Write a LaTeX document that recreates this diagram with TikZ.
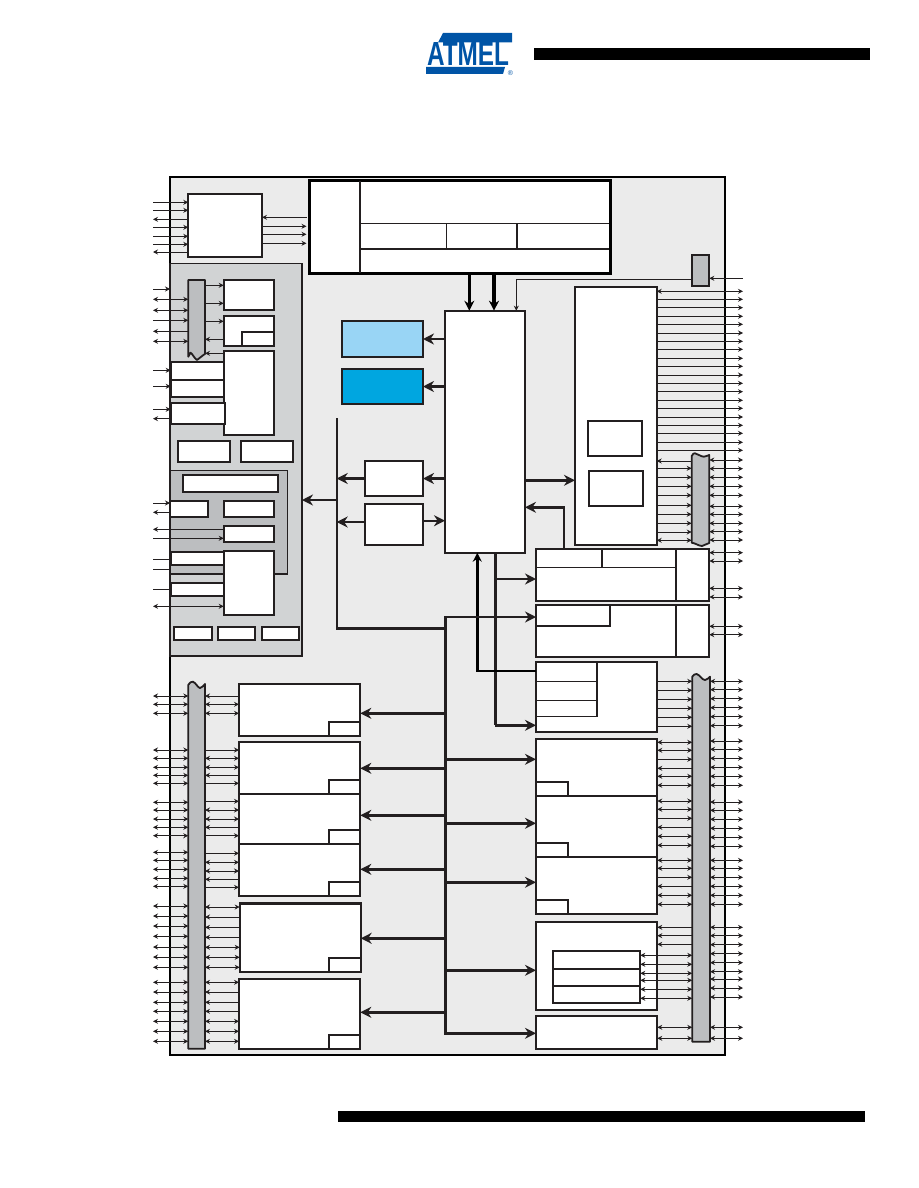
\documentclass[tikz,border=0pt]{standalone}
\usepackage{fontspec}
\setmainfont{Liberation Sans}
\usetikzlibrary{arrows.meta}
\definecolor{ink}{HTML}{231F20}
\definecolor{bgpanel}{HTML}{EBEBEB}
\definecolor{midgray}{HTML}{D1D3D4}
\definecolor{darkgray}{HTML}{BCBEC0}
\definecolor{lightblue}{HTML}{99D5F5}
\definecolor{strongblue}{HTML}{00A6E0}
\definecolor{logoblue}{HTML}{0054A6}
\tikzset{
  boxbase/.style={rectangle,inner sep=0pt,outer sep=0pt,draw=ink,fill=white,line width=1.8pt},
  thinbox/.style={line width=1.5pt},
  heavybox/.style={line width=2.4pt},
  blackbox/.style={draw=black,line width=2.9pt},
  ghost/.style={draw=none,fill=none},
  wire/.style={draw=ink,line width=0.9pt},
  wr/.style={wire,-{Stealth[length=5pt,width=5pt]}},
  wl/.style={wire,{Stealth[length=5pt,width=5pt]}-},
  wb/.style={wire,{Stealth[length=5pt,width=5pt]}-{Stealth[length=5pt,width=5pt]}},
  wn/.style={wire},
  busline/.style={draw=ink,line width=2.4pt},
  fat/.style={busline,-{Stealth[length=11pt,width=11pt]}},
  blackarrow/.style={draw=black,line width=2.6pt,-{Stealth[length=10pt,width=10pt]}},
  barshape/.style={draw=ink,fill=darkgray,line width=1.8pt,line join=round},
  divider/.style={draw=ink,line width=1.5pt},
}
% \bx[style]{name}{x1}{y1}{x2}{y2}
\newcommand{\bx}[6][]{\node[boxbase,#1,minimum width={(#5-#3)*1pt},minimum height={(#6-#4)*1pt}] (#2) at ({(#3+#5)/2},{(#4+#6)/2}) {};}
% \cn from to y style
\newcommand{\cn}[4]{\draw[#4] (#1 |- 0,#3) -- (#2 |- 0,#3);}
\begin{document}
\begin{tikzpicture}[x=1pt,y=-1pt]
\useasboundingbox (0,0) rectangle (918,1188);
\coordinate (LE) at (153,0);
\coordinate (RE) at (743,0);
\coordinate (GAP) at (306.5,0);
% logo and page bars
\fill[logoblue] (443,33) -- (512,33) -- (512,42.5) -- (438,42.5) -- cycle;
\fill[logoblue] (426,67) -- (505,67) -- (503,74) -- (426,74) -- cycle;
\node[inner sep=0pt,text=logoblue] (logotext) at (468,54) {\resizebox{82pt}{23pt}{\bfseries ATMEL}};
\node[inner sep=0pt,text=logoblue,font=\fontsize{7}{7}\selectfont] (logomark) at (510.5,73) {®};
\fill[black] (534,48) rectangle (870,60);
\fill[black] (338,1111) rectangle (865,1122);
% main panel
\bx[fill=bgpanel,draw=black,line width=2.2pt]{frame}{170}{177}{725}{1054.7}
\bx[fill=midgray,thinbox]{panel}{170}{263.3}{302}{656}
\bx[fill=darkgray,thinbox]{subpanel}{170.7}{470.7}{287.3}{574}
% long buses first
\coordinate (stub) at (336.7,418.3);
\bx{central}{445}{310.7}{525}{552.7}
\draw[busline] (stub) -- (stub |- 0,628.3) -- (central.south west |- 0,628.3);
\draw[busline,line cap=rect] (445.3,617) -- (445.3,1033.3);
\coordinate (pa) at (495.3,552.7);
\coordinate (pb) at (477.3,671);
% top left unit
\bx{clock}{188.3}{194}{262}{257}
% top block
\bx[blackbox]{top}{309.5}{180.7}{610.7}{273.3}
\draw[divider] (360,180.7) -- (360,273.3);
\draw[divider] (360,223.7) -- (608.5,223.7);
\draw[divider,line width=1.8pt] (360,249) -- (608.5,249);
\draw[divider] (446.7,223.7) -- (446.7,249);
\draw[divider] (517,223.7) -- (517,249);
% left mux bar
\node[boxbase,ghost,minimum width=16.7pt,minimum height=78pt] (barA) at (196.65,319) {};
\draw[barshape] (188.3,280) -- (205,280) -- (205,354) .. controls (203,355) and (200,358) .. (197,360) .. controls (194,358) and (192,353) .. (190.5,352.7) -- (188.3,356.7) -- cycle;
\bx{b1}{223.7}{280}{274.3}{310}
\bx{b2}{223.7}{316}{274.3}{346}
\bx{b2s}{242}{332}{274.3}{346}
\bx{b3}{223.7}{351}{274.3}{435}
\bx{s1}{170.7}{362}{223.7}{380}
\bx{s2}{170.7}{380}{223.7}{397}
\bx{s3}{170.7}{403}{225}{424}
\bx{d1}{178}{441}{230}{462}
\bx{d2}{240.7}{441}{293.3}{462}
\bx{e0}{183}{474.7}{278}{492}
\bx{e1}{170}{501}{208.3}{517}
\bx{e2}{223.7}{501}{274.3}{517}
\bx{e3}{223.7}{525.7}{274.3}{542}
\bx{e4}{170.7}{551.7}{223.7}{565}
\bx{e5}{223.7}{550.7}{274.3}{615}
\bx{e6}{170.7}{582.7}{223.7}{596}
\bx{f1}{174}{626.7}{212}{640}
\bx{f2}{218}{626.7}{255.3}{640}
\bx{f3}{262}{626.7}{299.3}{640}
% blue memories
\bx[fill=lightblue]{mem1}{342}{321}{423}{357}
\bx[fill=strongblue]{mem2}{342}{369}{423}{404.3}
\bx{m1}{365}{460.7}{423}{495.7}
\bx{m2}{365}{504}{423}{545}
% right big block
\bx{pio}{575}{287}{656.7}{545}
\bx{pio1}{587.7}{420.7}{641.7}{456}
\bx{pio2}{588.7}{471}{643.3}{506}
\node[boxbase,fill=darkgray] (tinybar) at (700.5,270.3) [minimum width=17.6pt,minimum height=30.7pt] {};
% right peripheral blocks
\bx{C}{536}{549}{709.3}{601}
\draw[divider] (676,549) -- (676,601);
\draw[divider] (602,549) -- (602,567.7);
\draw[divider] (536,567.7) -- (676,567.7);
\bx{D}{536}{605}{709.3}{657}
\draw[divider] (676,605) -- (676,657);
\bx{Ds}{536}{605}{610}{625.7}
\bx{E}{536}{662}{657.3}{732}
\draw[divider] (597,662) -- (597,716.7);
\draw[divider] (536,681.7) -- (597,681.7);
\draw[divider] (536,700.7) -- (597,700.7);
\draw[divider] (536,716.7) -- (597,716.7);
\bx{F}{536}{739}{657.3}{795.7}
\bx{Fs}{536}{782}{568}{795.7}
\bx{G}{536}{795.7}{657.3}{857}
\bx{Gs}{536}{843}{568}{857}
\bx{H}{536}{857}{657.3}{913.7}
\bx{Hs}{536}{900}{568}{913.7}
\bx{I}{536}{922}{657.3}{1010}
\bx{I1}{553}{951}{640.3}{969}
\bx{I2}{553}{969}{640.3}{986}
\bx{I3}{553}{986}{640.3}{1003}
\bx{J}{536}{1016}{657.3}{1049}
% left peripheral blocks
\bx{K}{239}{684}{360.3}{736}
\bx{Ks}{329}{721.7}{360.3}{736}
\bx{L}{239}{742}{360.3}{793.7}
\bx{Ls}{329}{780}{360.3}{793.7}
\bx{M}{239}{793.7}{360.3}{843.7}
\bx{Ms}{329}{830}{360.3}{843.7}
\bx{N}{239}{843.7}{360.3}{896}
\bx{Ns}{329}{881.7}{360.3}{896}
\bx[heavybox]{O}{239.7}{903.3}{360.7}{971.7}
\bx{Os}{329}{958}{360.7}{971.7}
\bx{P}{239}{979}{360.3}{1049}
\bx{Ps}{329}{1035}{360.3}{1049}
% bars
\node[boxbase,ghost,minimum width=16.7pt,minimum height=366pt] (barB) at (196.65,865.7) {};
\draw[barshape] (188.3,685) .. controls (190,682) and (192,681.5) .. (193,681.7) .. controls (196,683) and (198,688) .. (200,688) .. controls (202,688) and (204,685) .. (205,684) -- (205,1048.7) -- (188.3,1048.7) -- cycle;
\node[boxbase,ghost,minimum width=17.6pt,minimum height=88pt] (barC) at (700.5,500) {};
\draw[barshape] (691.7,456) .. controls (693,453.5) and (694,453) .. (695,453.3) .. controls (698,454) and (701,456.7) .. (704,456.7) .. controls (706,456.7) and (708,455) .. (709.3,455) -- (709.3,543) .. controls (706,543.5) and (704,546) .. (702,546) .. controls (699,546) and (695,543) .. (691.7,542.7) -- cycle;
\node[boxbase,ghost,minimum width=17.7pt,minimum height=366pt] (barD) at (701.15,858) {};
\draw[barshape] (692.3,676.7) .. controls (693.5,674.5) and (695,674) .. (696.7,674) .. controls (700,675) and (702,680) .. (705,680) .. controls (707,680) and (709,677.5) .. (710,676.7) -- (710,1041.7) -- (692.3,1041.7) -- cycle;
% thick connectors
\draw[blackarrow] (top.south -| 469.3,0) -- (central.north -| 469.3,0);
\draw[blackarrow,line width=3.4pt] (top.south -| 494,0) -- (central.north -| 494,0);
\cn{central.west}{mem1.east}{339}{fat}
\cn{central.west}{mem2.east}{386.5}{fat}
\cn{central.west}{m1.east}{478.5}{fat}
\cn{m2.east}{central.west}{520.7}{fat}
\cn{m1.west}{stub}{478.5}{fat}
\cn{m2.west}{stub}{522}{fat}
\cn{stub}{panel.east}{500}{fat}
\cn{central.east}{pio.west}{480.3}{fat}
\draw[fat] (C.north -| 563.7,0) -- (563.7,507.3) -- (central.east |- 0,507.3);
\draw[busline] (pa) -- (pa |- 0,725.3);
\draw[fat] (pa |- 0,725.3) -- (E.west |- 0,725.3);
\draw[fat] (pa |- 0,579) -- (C.west |- 0,579);
\draw[draw=black,line width=2.4pt,-{Stealth[length=9pt,width=9pt]}] (E.west |- pb) -- (pb) -- (pb |- central.south);
\draw[fat] (445.3,617) -- (D.west |- 0,617);
\cn{445.3,0}{K.east}{713.3}{fat}
\cn{445.3,0}{L.east}{768.3}{fat}
\cn{445.3,0}{M.east}{815.3}{fat}
\cn{445.3,0}{N.east}{869.3}{fat}
\cn{445.3,0}{O.east}{938.3}{fat}
\cn{445.3,0}{P.east}{1012.3}{fat}
\cn{445.3,0}{F.west}{759.3}{fat}
\cn{445.3,0}{G.west}{823.3}{fat}
\cn{445.3,0}{H.west}{882.3}{fat}
\cn{445.3,0}{I.west}{970.3}{fat}
\cn{445.3,0}{J.west}{1033.3}{fat}
% clock wires
\foreach \y/\s in {202.3/wr,210.3/wr,219.3/wl,227.3/wr,236.3/wr,244.3/wr,252/wl} {\cn{LE}{clock.west}{\y}{\s}}
\cn{GAP}{clock.east}{217.3}{wr}
\foreach \y in {226.3,234.3,243.3} {\cn{clock.east}{GAP}{\y}{wr}}
% upper left panel wires
\cn{LE}{panel.west}{289}{wr}
\foreach \y/\s in {299.3/wb,310.3/wb,320.3/wr,331.3/wl,341.3/wb} {\cn{LE}{barA.west}{\y}{\s}}
\foreach \y in {285.3,303.3} {\cn{barA.east}{b1.west}{\y}{wr}}
\cn{barA.east}{b2.west}{321.3}{wr}
\cn{barA.east}{b2.west}{339.3}{wl}
\cn{barA.east}{b3.west}{353.3}{wl}
\cn{LE}{s1.west}{370.3}{wr}
\cn{LE}{s2.west}{386.3}{wr}
\cn{LE}{s3.west}{409.3}{wr}
\cn{LE}{s3.west}{418.7}{wl}
\cn{LE}{e1.west}{503}{wr}
\cn{LE}{e1.west}{512.3}{wl}
\cn{LE}{e3.west}{529.3}{wl}
\cn{LE}{e3.west}{538.3}{wr}
\cn{LE}{e4.west}{559.3}{wn}
\cn{LE}{panel.west}{569.3}{wn}
\cn{LE}{e6.west}{589.3}{wn}
\cn{LE}{e5.west}{606.3}{wb}
% lower left wires
\foreach \y in {696,704.3,713.3,750,758.3,767.3,775.3,783.3,802.3,810,819,827.3,835.7,852.3,860.3,869.3,878.3,886.3,906,916,926,936.3,947,957,967.3,982.3,992,1002.3,1011.3,1021.3,1031.3,1041.3} {\cn{LE}{barB.west}{\y}{wb}}
\foreach \y/\s in {696/wl,704.3/wb,713.3/wb} {\cn{barB.east}{K.west}{\y}{\s}}
\foreach \y/\s in {750/wr,758.3/wb,767.3/wb,775.3/wl,783.3/wr} {\cn{barB.east}{L.west}{\y}{\s}}
\foreach \y/\s in {801.3/wr,810/wb,819/wb,827.3/wl,835.7/wr} {\cn{barB.east}{M.west}{\y}{\s}}
\foreach \y/\s in {853.3/wr,862.3/wb,871/wb,879.3/wl,887.3/wr} {\cn{barB.east}{N.west}{\y}{\s}}
\foreach \y/\s in {907/wb,917/wl,927.3/wl,937.3/wl,947.3/wb,957.3/wb,967.3/wb} {\cn{barB.east}{O.west}{\y}{\s}}
\foreach \y/\s in {982.3/wb,992/wl,1002.3/wl,1011.3/wl,1021.3/wb,1031.3/wb,1041.3/wb} {\cn{barB.east}{P.west}{\y}{\s}}
% right top wires
\cn{tinybar.east}{RE}{278.3}{wl}
\draw[wr] (tinybar.west |- 0,279.3) -- (516.3,279.3) -- (central.north -| 516.3,0);
\cn{pio.east}{RE}{291.3}{wb}
\foreach \y in {299.3,307.7,316.3,324.3,333,341.3,349.3,358.3,366.3,375,383.3,391.7,400.3,408.3,417,425.3,433.3,442.3,450.3} {\cn{pio.east}{RE}{\y}{wr}}
\cn{pio.east}{barC.west}{461}{wl}
\foreach \y in {468.3,477.3,486.3,495.3,505.3,514.3,523.3,532} {\cn{pio.east}{barC.west}{\y}{wr}}
\cn{pio.east}{barC.west}{540.3}{wb}
\foreach \y in {460,468.7,477.3,486.3,495.3,506.3,514.3,523.3,531.7,540} {\cn{barC.east}{RE}{\y}{wb}}
\foreach \y in {552.7,561,588.3,597} {\cn{C.east}{RE}{\y}{wb}}
\foreach \y in {626.3,634.7} {\cn{D.east}{RE}{\y}{wb}}
\foreach \y in {681.3,690.3,699.3,708.3,717.3,726.3} {\cn{E.east}{barD.west}{\y}{wr}}
\foreach \y in {681.3,689.7,698.7,707.7,716.7,725.7,741,749.3,758.3,767.3,776.3,785.3,802,810.3,819.3,828.3,837.3,846.3,860.3,868.3,877.3,886.3,895.3,904.3,927.3,935.7,944.7,953.7,962.7,971.7,979,988,997,1027.3,1038.3} {\cn{barD.east}{RE}{\y}{wb}}
\foreach \y/\s in {742.3/wb,750.3/wb,759.3/wr,768.3/wl,776.3/wb,785.3/wb} {\cn{F.east}{barD.west}{\y}{\s}}
\foreach \y/\s in {801/wb,809.3/wb,818.3/wr,827.3/wl,836.3/wb,845.3/wb} {\cn{G.east}{barD.west}{\y}{\s}}
\foreach \y/\s in {860.3/wb,868.3/wb,877.3/wr,886.3/wl,895.3/wb,904.3/wb} {\cn{H.east}{barD.west}{\y}{\s}}
\foreach \y in {927.3,935.7,944.3} {\cn{I.east}{barD.west}{\y}{wl}}
\foreach \y in {955.3,964.3} {\cn{I1.east}{barD.west}{\y}{wb}}
\foreach \y in {973.3,980.3} {\cn{I2.east}{barD.west}{\y}{wb}}
\foreach \y in {989.3,998.3} {\cn{I3.east}{barD.west}{\y}{wb}}
\foreach \y in {1027.3,1038.3} {\cn{J.east}{barD.west}{\y}{wb}}
\end{tikzpicture}
\end{document}
